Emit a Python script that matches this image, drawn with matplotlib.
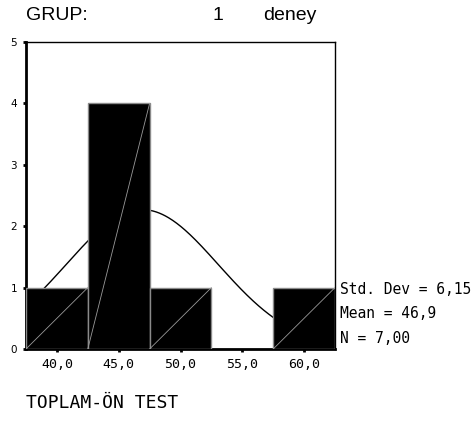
import numpy as np
import matplotlib.pyplot as plt

# Frequency table for TOPLAM-ON TEST, group 1
bin_centers = [40.0, 45.0, 50.0, 55.0, 60.0]
counts = [1, 4, 1, 0, 1]
tick_labels = ["40,0", "45,0", "50,0", "55,0", "60,0"]
std_dev = 6.15
mean = 46.9
n_obs = 7
bin_width = 5.0

W, H = 476, 423
fig = plt.figure(figsize=(W / 100, H / 100), dpi=100)
ax = fig.add_axes([26 / W, 1 - 349 / H, 309 / W, 307 / H])

# histogram bars: black fill, grey edge, thin diagonal inside each bar
for c, h in zip(bin_centers, counts):
    if h == 0:
        continue
    x0 = c - bin_width / 2
    ax.bar(c, h, width=bin_width, color="black", edgecolor="#8a8a8a",
           linewidth=1.0, zorder=3)
    ax.plot([x0, x0 + bin_width], [0, h], color="#9a9a9a", lw=0.6, zorder=4)

# fitted normal curve scaled to counts
lo = bin_centers[0] - bin_width / 2
hi = bin_centers[-1] + bin_width / 2
xs = np.linspace(lo, hi, 300)
ys = n_obs * bin_width / (std_dev * np.sqrt(2 * np.pi)) * np.exp(-0.5 * ((xs - mean) / std_dev) ** 2)
ax.plot(xs, ys, color="black", lw=1.0, zorder=2)

ax.set_xlim(lo, hi)
ax.set_ylim(0, 5)
ax.set_xticks(bin_centers)
ax.set_xticklabels(tick_labels, family="DejaVu Sans Mono", fontsize=9.5)
ax.set_yticks(range(6))
ax.set_yticklabels([str(v) for v in range(6)], fontsize=7.5)
ax.tick_params(axis="both", direction="out", length=2.5, width=2, pad=4)
ax.tick_params(axis="x", pad=4)

for side in ("left", "bottom"):
    ax.spines[side].set_linewidth(2)
for side in ("top", "right"):
    ax.spines[side].set_linewidth(1)

# title
title_kw = dict(fontsize=14, family="Liberation Sans", va="center")
fig.text(26 / W, 1 - 16 / H, "GRUP:", **title_kw)
fig.text(212 / W, 1 - 16 / H, "1", **title_kw)
fig.text(263 / W, 1 - 16 / H, "deney", **title_kw)

# summary statistics
mono = dict(family="DejaVu Sans Mono", fontsize=10.5, va="center")
fig.text(340 / W, 1 - 289 / H, "Std. Dev = " + f"{std_dev:.2f}".replace(".", ","), **mono)
fig.text(340 / W, 1 - 314 / H, "Mean = " + f"{mean:.1f}".replace(".", ","), **mono)
fig.text(340 / W, 1 - 338 / H, "N = " + f"{n_obs:.2f}".replace(".", ","), **mono)

fig.text(26 / W, 1 - 403 / H, "TOPLAM-ÖN TEST", family="DejaVu Sans Mono",
         fontsize=13, va="center")

fig.savefig("out.png", dpi=100)
